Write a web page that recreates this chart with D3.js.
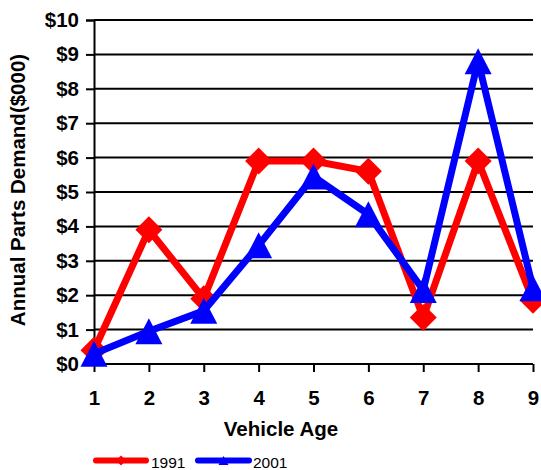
<!DOCTYPE html>
<html>
<head>
<meta charset="utf-8">
<script src="https://cdn.jsdelivr.net/npm/d3@7/dist/d3.min.js"></script>
<style>
  html, body { margin: 0; padding: 0; background: #fff; }
  svg { display: block; font-family: "Liberation Sans", Arial, Helvetica, sans-serif; }
</style>
</head>
<body>
<svg id="chart" width="541" height="470"></svg>
<script>
// Vehicle age categories and annual parts demand ($000) per year
const ages = [1, 2, 3, 4, 5, 6, 7, 8, 9];
const demand1991 = [0.4, 3.9, 1.9, 5.9, 5.9, 5.6, 1.35, 5.9, 1.85];
const demand2001 = [0.3, 0.95, 1.55, 3.45, 5.45, 4.35, 2.15, 8.8, 2.2];
const yTicks = [0, 1, 2, 3, 4, 5, 6, 7, 8, 9, 10];
const seriesNames = ["1991", "2001"];

const svg = d3.select("#chart");
const plotLeft = 94, plotRight = 533, plotTop = 20, plotBottom = 364;
const labelFont = "20.5px";

const x = d3.scalePoint().domain(ages).range([plotLeft, plotRight]);
const y = d3.scaleLinear().domain([0, 10]).range([plotBottom, plotTop]);

// horizontal gridlines
svg.append("g")
  .selectAll("line")
  .data(yTicks)
  .join("line")
  .attr("x1", plotLeft).attr("x2", plotRight)
  .attr("y1", d => y(d)).attr("y2", d => y(d))
  .attr("stroke", "#000").attr("stroke-width", 2);

// y axis
const yAxis = svg.append("g")
  .attr("transform", `translate(${plotLeft},0)`)
  .call(d3.axisLeft(y).tickValues(yTicks).tickSize(8).tickPadding(7).tickFormat(d => "$" + d));
yAxis.select(".domain").attr("stroke", "#000").attr("stroke-width", 2);
yAxis.selectAll(".tick line").attr("stroke", "#000").attr("stroke-width", 2);
yAxis.selectAll(".tick text")
  .attr("fill", "#000").style("font-size", labelFont).style("font-weight", "bold")
  .style("font-family", '"Liberation Sans", Arial, sans-serif');

// x axis
const xAxis = svg.append("g")
  .attr("transform", `translate(0,${plotBottom})`)
  .call(d3.axisBottom(x).tickSize(8).tickPadding(18));
xAxis.select(".domain").attr("stroke", "#000").attr("stroke-width", 2).attr("d", `M${plotLeft},0H${plotRight}`);
xAxis.selectAll(".tick line").attr("stroke", "#000").attr("stroke-width", 2);
xAxis.selectAll(".tick text")
  .attr("fill", "#000").style("font-size", labelFont).style("font-weight", "bold")
  .style("font-family", '"Liberation Sans", Arial, sans-serif');

// axis titles
svg.append("text")
  .attr("x", 281).attr("y", 436)
  .attr("text-anchor", "middle")
  .style("font-size", labelFont).style("font-weight", "bold")
  .text("Vehicle Age");

svg.append("text")
  .attr("transform", "translate(25,190) rotate(-90)")
  .attr("text-anchor", "middle")
  .style("font-size", labelFont).style("font-weight", "bold")
  .text("Annual Parts Demand($000)");

// marker shapes
function diamond(r) { return `M0,${-r}L${r},0L0,${r}L${-r},0Z`; }
function triangle(h, w) { return `M0,${-h}L${w},${h}L${-w},${h}Z`; }

const line = d3.line().x((d, i) => x(ages[i])).y(d => y(d));

const series = [
  { name: seriesNames[0], values: demand1991, color: "#ff0000", marker: diamond(13.5), legendMarker: diamond(5) },
  { name: seriesNames[1], values: demand2001, color: "#0000ff", marker: triangle(13, 13.5), legendMarker: triangle(4.5, 5) }
];

series.forEach(s => {
  const g = svg.append("g");
  g.append("path")
    .attr("d", line(s.values))
    .attr("fill", "none")
    .attr("stroke", s.color)
    .attr("stroke-width", 7)
    .attr("stroke-linejoin", "miter");
  g.selectAll("path.m")
    .data(s.values)
    .join("path")
    .attr("class", "m")
    .attr("transform", (d, i) => `translate(${x(ages[i])},${y(d)})`)
    .attr("d", s.marker)
    .attr("fill", s.color);
});

// legend
const legendItems = [
  { s: series[0], x0: 96, x1: 146, tx: 151 },
  { s: series[1], x0: 198, x1: 249, tx: 253 }
];
legendItems.forEach(it => {
  const g = svg.append("g");
  g.append("line")
    .attr("x1", it.x0).attr("x2", it.x1)
    .attr("y1", 460.5).attr("y2", 460.5)
    .attr("stroke", it.s.color).attr("stroke-width", 6).attr("stroke-linecap", "round");
  g.append("path")
    .attr("transform", `translate(${(it.x0 + it.x1) / 2},460.5)`)
    .attr("d", it.s.legendMarker)
    .attr("fill", it.s.color);
  g.append("text")
    .attr("x", it.tx).attr("y", 468)
    .style("font-size", "15.5px")
    .text(it.s.name);
});
</script>
</body>
</html>
